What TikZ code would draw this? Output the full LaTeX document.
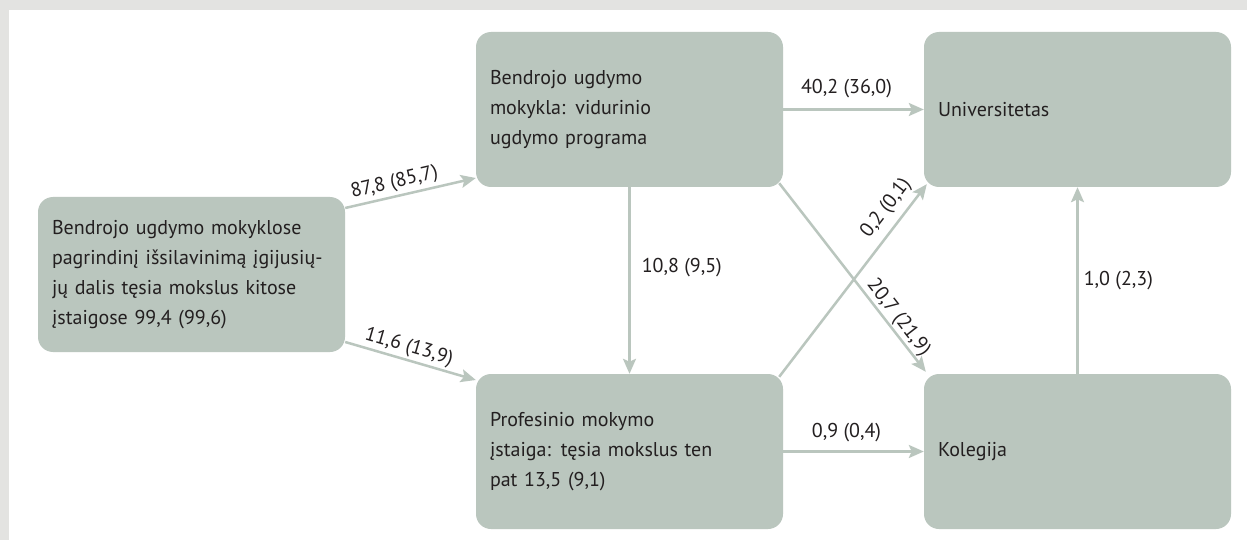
\documentclass[tikz,border=0pt]{standalone}
\usepackage{fontspec}
\setmainfont{PT Sans}
\usetikzlibrary{arrows.meta}
\definecolor{boxfill}{HTML}{BAC6BE}
\definecolor{arrcol}{HTML}{BAC6BE}
\definecolor{txt}{HTML}{231F20}
\definecolor{framegray}{HTML}{E3E3E1}
\begin{document}
\begin{tikzpicture}[x=1pt,y=-1pt,
  flowbox/.style={fill=boxfill, draw=none, rounded corners=15pt, minimum width=307pt, minimum height=155pt, text width=279pt, inner xsep=14pt, inner ysep=0pt, align=left, text=txt, font=\fontsize{20}{30}\selectfont},
  arr/.style={draw=arrcol, line width=2.5pt, -{Stealth[length=15pt,width=13pt,inset=3pt]}},
  lab/.style={text=txt, font=\fontsize{20}{22}\selectfont, inner sep=2pt}]
\useasboundingbox (0,0) rectangle (1247,540);
\fill[framegray] (0,0) rectangle (1247,540);
\fill[white] (9,10) rectangle (1247,540);
\node[flowbox] (A) at (191.5,274.5) {Bendrojo ugdymo mokyklose\\pagrindinį išsilavinimą įgijusių-\\jų dalis tęsia mokslus kitose\\įstaigose 99,4 (99,6)};
\node[flowbox] (B) at (629.5,109.5) {Bendrojo ugdymo\\mokykla: vidurinio\\ugdymo programa};
\node[flowbox] (U) at (1077.5,109.5) {Universitetas};
\node[flowbox] (P) at (629.5,451.5) {Profesinio mokymo\\įstaiga: tęsia mokslus ten\\pat 13,5 (9,1)};
\node[flowbox] (K) at (1077.5,451.5) {Kolegija};
\draw[arr] ([yshift=66.5pt]A.east) -- node[lab, above=1pt, sloped, pos=0.4] {87,8 (85,7)} ([yshift=-68.5pt]B.west);
\draw[arr] ([yshift=-67.5pt]A.east) -- node[lab, above, sloped, pos=0.46] {11,6 (13,9)} ([yshift=71.5pt]P.west);
\draw[arr] (B.east) -- node[lab, above=8pt, pos=0.45] {40,2 (36,0)} (U.west);
\draw[arr] (P.east) -- node[lab, above=6pt, pos=0.45] {0,9 (0,4)} (K.west);
\draw[arr] (B.south) -- node[lab, right=9pt, pos=0.43] {10,8 (9,5)} (P.north);
\draw[arr] (K.north) -- node[lab, right=3pt, pos=0.5] {1,0 (2,3)} (U.south);
\draw[arr] ([shift={(-4pt,-3pt)}]P.north east) -- node[lab, above=5pt, sloped, pos=0.82] {0,2 (0,1)} ([shift={(3pt,3pt)}]U.south west);
\draw[arr] ([shift={(-4pt,4pt)}]B.south east) -- node[lab, above=0pt, sloped, pos=0.75, inner sep=1pt] {20,7 (21,9)} ([shift={(2pt,2pt)}]K.north west);
\end{tikzpicture}
\end{document}
